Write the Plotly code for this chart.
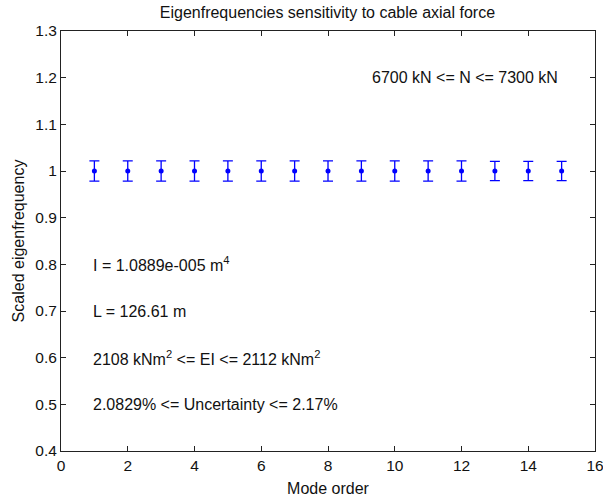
import plotly.graph_objects as go

modes = list(range(1, 16))
scaled_freq = [1.0] * 15
uncertainty_pct = [2.17, 2.17, 2.17, 2.17, 2.17, 2.17, 2.17, 2.17, 2.17, 2.17, 2.17, 2.17,
                   2.0829, 2.0829, 2.0829]
err = [v * u / 100 for v, u in zip(scaled_freq, uncertainty_pct)]

x_ticks = [0, 2, 4, 6, 8, 10, 12, 14, 16]
y_ticks = [0.4, 0.5, 0.6, 0.7, 0.8, 0.9, 1.0, 1.1, 1.2, 1.3]
y_tick_text = ["0.4", "0.5", "0.6", "0.7", "0.8", "0.9", "1", "1.1", "1.2", "1.3"]

FONT = "Liberation Sans, Arial, sans-serif"
FS = 16
TFS = 15.5

fig = go.Figure()
fig.add_trace(go.Scatter(
    x=modes, y=scaled_freq, mode="markers",
    marker=dict(color="#0000ff", size=5),
    error_y=dict(type="data", array=err, visible=True, color="#0000ff",
                 thickness=1.3, width=5),
    showlegend=False,
))

annotations = [
    dict(x=9.25, y=1.2, text="6700 kN <= N <= 7300 kN"),
    dict(x=0.9, y=0.8, text="I = 1.0889e-005 m<sup>4</sup>"),
    dict(x=0.9, y=0.7, text="L = 126.61 m"),
    dict(x=0.9, y=0.6, text="2108 kNm<sup>2</sup> <= EI <= 2112 kNm<sup>2</sup>"),
    dict(x=0.9, y=0.5, text="2.0829% <= Uncertainty <= 2.17%"),
]
for a in annotations:
    fig.add_annotation(x=a["x"], y=a["y"], text=a["text"], xref="x", yref="y",
                       showarrow=False, xanchor="left", yanchor="middle",
                       font=dict(family=FONT, size=FS, color="#111111"))

axis_common = dict(
    showline=True, linecolor="#222222", linewidth=1, mirror="ticks",
    ticks="inside", ticklen=5, tickcolor="#222222", showgrid=False, zeroline=False,
    tickfont=dict(family=FONT, size=TFS, color="#111111"),
    ticklabeloverflow="allow", automargin=False,
)

fig.update_layout(
    width=603, height=497,
    margin=dict(l=61, r=8, t=31, b=46, autoexpand=False),
    paper_bgcolor="white", plot_bgcolor="white",
    title=dict(text="Eigenfrequencies sensitivity to cable axial force",
               x=0.543, xanchor="center", y=0.975, yanchor="middle",
               font=dict(family=FONT, size=FS, color="#111111")),
    xaxis=dict(range=[0, 16], tickvals=x_ticks,
               title=dict(text="Mode order", font=dict(family=FONT, size=FS, color="#111111"),
                          standoff=11),
               **axis_common),
    yaxis=dict(range=[0.4, 1.3], tickvals=y_ticks, ticktext=y_tick_text,
               title=dict(text="Scaled eigenfrequency", font=dict(family=FONT, size=FS, color="#111111"),
                          standoff=6),
               **axis_common),
)

fig.write_html("out.html")
